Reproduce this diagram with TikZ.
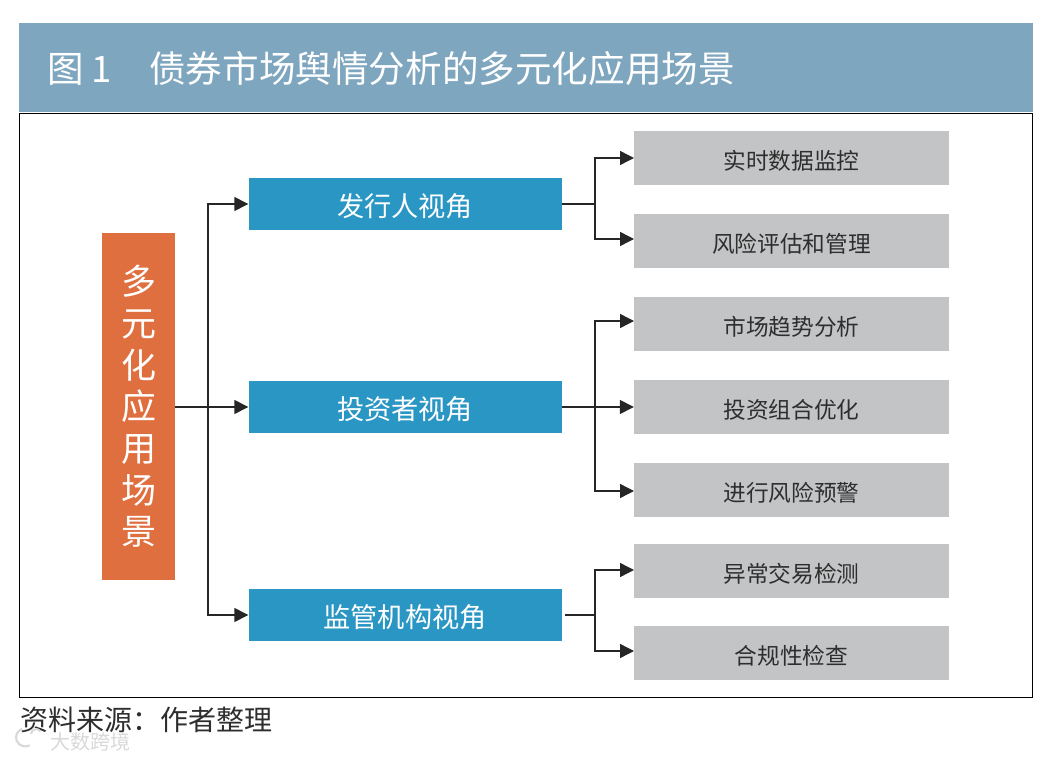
\documentclass[tikz,border=0pt]{standalone}
\usepackage{fontspec}
\setmainfont{Noto Sans CJK SC}
\usetikzlibrary{arrows.meta}
\definecolor{hdr}{HTML}{7FA6BF}
\definecolor{org}{HTML}{E06F3F}
\definecolor{blu}{HTML}{2A96C4}
\definecolor{gry}{HTML}{C2C4C5}
\definecolor{txt}{HTML}{2E2E2E}
\begin{document}
\begin{tikzpicture}[x=1pt,y=-1pt,
 lev1/.style={fill=blu,text=white,minimum width=313pt,minimum height=52pt,inner sep=0,text height=24.5pt,text depth=0pt,font=\fontsize{27.2}{27}\selectfont},
 lev2/.style={fill=gry,text=txt,minimum width=315pt,minimum height=54pt,inner sep=0,text height=23pt,text depth=0pt,font=\fontsize{22.7}{23}\selectfont},
 conn/.style={draw=black!85,line width=1.4pt},
 arr/.style={conn,-{Triangle[length=14pt,width=14pt]}}]
\useasboundingbox (0,0) rectangle (1050,757);
\fill[white] (0,0) rectangle (1050,757);
\node[fill=hdr,minimum width=1014pt,minimum height=89pt,inner sep=0,anchor=north west] (hd) at (19,23) {};
\node[anchor=west,text=white,inner sep=0,font=\fontsize{36.5}{36}\selectfont] (fig) at (47,69) {图 1};
\node[anchor=west,text=white,inner sep=0,font=\fontsize{36.6}{36}\selectfont] (ttl) at (149,69) {债券市场舆情分析的多元化应用场景};
\node[draw=black,line width=0.8pt,minimum width=1013pt,minimum height=584pt,inner sep=0,anchor=north west] (fr) at (19,113) {};
\node[fill=org,text=white,minimum width=73pt,minimum height=347pt,inner sep=0,align=center,font=\fontsize{35}{41.7}\selectfont] (root) at (138.5,406.5) {多\\元\\化\\应\\用\\场\\景};
\node[lev1] (a) at (405,204) {发行人视角};
\node[lev1] (b) at (405,407) {投资者视角};
\node[lev1] (c) at (405,615) {监管机构视角};
\node[lev2] (a1) at (791.5,158) {实时数据监控};
\node[lev2] (a2) at (791.5,241) {风险评估和管理};
\node[lev2] (b1) at (791.5,324) {市场趋势分析};
\node[lev2] (b2) at (791.5,407) {投资组合优化};
\node[lev2] (b3) at (791.5,490) {进行风险预警};
\node[lev2] (c1) at (791.5,570.5) {异常交易检测};
\node[lev2] (c2) at (791.5,653) {合规性检查};
\coordinate (r0) at (175,407);
\coordinate (j0) at (208,407);
\coordinate (ja) at (595,204);
\coordinate (jb) at (595,407);
\coordinate (jc) at (595,615);
\coordinate (ce) at (565,615);
\coordinate (ta1) at (634,158);
\coordinate (ta2) at (634,239);
\coordinate (tb1) at (634,321);
\coordinate (tb3) at (634,491);
\coordinate (tc1) at (634,570);
\coordinate (tc2) at (634,651);
\draw[conn] (r0) -- (j0);
\draw[arr] (j0) |- (a.west);
\draw[arr] (j0) -- (b.west);
\draw[arr] (j0) |- (c.west);
\draw[conn] (a.east) -- (ja);
\draw[arr] (ja) |- (ta1);
\draw[arr] (ja) |- (ta2);
\draw[conn] (b.east) -- (jb);
\draw[arr] (jb) |- (tb1);
\draw[arr] (jb) -- (b2.west);
\draw[arr] (jb) |- (tb3);
\draw[conn] (ce) -- (jc);
\draw[arr] (jc) |- (tc1);
\draw[arr] (jc) |- (tc2);
\node[anchor=west,inner sep=0,text=txt,font=\fontsize{28}{28}\selectfont] (src) at (20,720) {资料来源：作者整理};
\node[anchor=west,inner sep=0,text=black!15,font=\fontsize{20}{20}\selectfont] (wm) at (50,742) {大数跨境};
\draw[black!15,line width=2.2pt] (22,729) arc[start angle=110,end angle=300,radius=9pt];
\draw[black!15,line width=2pt] (31,734) arc[start angle=180,end angle=30,radius=5pt];
\end{tikzpicture}
\end{document}
